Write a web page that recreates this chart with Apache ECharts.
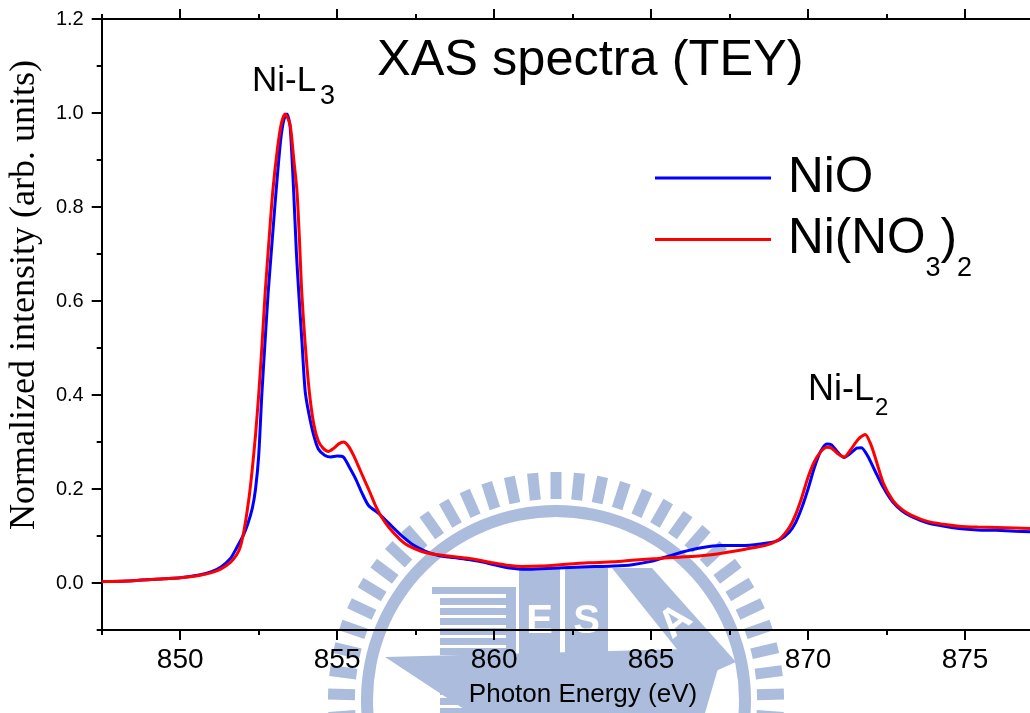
<!DOCTYPE html>
<html>
<head>
<meta charset="utf-8">
<title>XAS spectra (TEY)</title>
<script src="https://cdn.jsdelivr.net/npm/echarts@6/dist/echarts.min.js"></script>
<style>
  html, body { margin: 0; padding: 0; background: #fff; }
  #chart { width: 1030px; height: 713px; }
</style>
</head>
<body>
<div id="chart"></div>
<script>
// ---- Ni L-edge XAS, total electron yield ----
const X_MIN = 847.5, X_MAX = 877.07;
const Y_MIN = -0.1, Y_MAX = 1.2;

const xMajorTicks = [850, 855, 860, 865, 870, 875];
const xMinorTicks = [847.5, 852.5, 857.5, 862.5, 867.5, 872.5];
const yMajorTicks = [0, 0.2, 0.4, 0.6, 0.8, 1.0, 1.2];
const yMinorTicks = [-0.1, 0.1, 0.3, 0.5, 0.7, 0.9, 1.1];

// NiO
const nioEnergy = [
  847.5, 848.5, 849.5, 850.0, 850.6, 851.0, 851.3, 851.6, 851.8, 852.0,
  852.15, 852.3, 852.4, 852.5, 852.6, 852.7, 852.8, 852.95, 853.06, 853.2,
  853.3, 853.4, 853.5, 853.61, 853.7, 853.77, 853.88, 853.98, 854.1, 854.25,
  854.4, 854.6, 854.8, 855.0, 855.2, 855.4, 855.6, 855.8, 856.0, 856.3,
  856.6, 857.0, 857.4, 857.8, 858.2, 858.7, 859.2, 859.6, 860.0, 860.5,
  861.0, 861.7, 862.4, 863.2, 863.8, 864.4, 865.0, 865.5, 866.0, 866.6,
  867.2, 868.0, 868.7, 869.1, 869.4, 869.6, 869.8, 870.0, 870.2, 870.4,
  870.6, 870.75, 870.95, 871.15, 871.35, 871.55, 871.7, 871.9, 872.1, 872.4,
  872.7, 873.0, 873.3, 873.8, 874.3, 874.8, 875.4, 876.0, 876.6, 877.1
];
const nioIntensity = [
  0.003, 0.005, 0.009, 0.011, 0.017, 0.024, 0.034, 0.052, 0.075, 0.100,
  0.125, 0.160, 0.200, 0.270, 0.400, 0.510, 0.615, 0.745, 0.838, 0.942,
  0.985, 0.998, 0.972, 0.840, 0.705, 0.625, 0.512, 0.409, 0.360, 0.315,
  0.285, 0.272, 0.268, 0.270, 0.268, 0.245, 0.220, 0.190, 0.165, 0.149,
  0.130, 0.104, 0.082, 0.068, 0.059, 0.054, 0.050, 0.045, 0.039, 0.032,
  0.029, 0.031, 0.033, 0.035, 0.036, 0.039, 0.046, 0.056, 0.066, 0.075,
  0.080, 0.080, 0.085, 0.092, 0.108, 0.128, 0.160, 0.200, 0.245, 0.280,
  0.296, 0.294, 0.278, 0.267, 0.276, 0.287, 0.288, 0.270, 0.243, 0.203,
  0.172, 0.153, 0.141, 0.128, 0.121, 0.116, 0.113, 0.112, 0.110, 0.109
];

// Ni(NO3)2
const nitrateEnergy = [
  847.5, 848.5, 849.5, 850.0, 850.6, 851.0, 851.3, 851.6, 851.8, 851.92,
  852.05, 852.2, 852.3, 852.4, 852.5, 852.6, 852.71, 852.83, 852.95, 853.1,
  853.22, 853.34, 853.5, 853.62, 853.72, 853.8, 853.87, 853.98, 854.11, 854.25,
  854.4, 854.55, 854.72, 854.9, 855.05, 855.2, 855.35, 855.52, 855.7, 855.85,
  856.05, 856.2, 856.4, 856.65, 857.0, 857.25, 857.7, 858.1, 858.6, 859.1,
  859.5, 859.95, 860.5, 860.9, 861.5, 862.3, 863.0, 863.8, 864.5, 865.2,
  865.9, 866.6, 867.3, 868.0, 868.7, 869.1, 869.4, 869.6, 869.8, 870.0,
  870.2, 870.4, 870.6, 870.75, 870.95, 871.15, 871.35, 871.6, 871.82, 872.0,
  872.15, 872.4, 872.7, 873.0, 873.3, 873.8, 874.3, 874.8, 875.4, 876.0,
  876.6, 877.1
];
const nitrateIntensity = [
  0.003, 0.005, 0.009, 0.011, 0.016, 0.022, 0.030, 0.044, 0.060, 0.078,
  0.118, 0.185, 0.245, 0.315, 0.400, 0.500, 0.621, 0.730, 0.834, 0.925,
  0.977, 0.998, 0.975, 0.900, 0.834, 0.730, 0.621, 0.510, 0.409, 0.340,
  0.302, 0.287, 0.280, 0.287, 0.296, 0.300, 0.292, 0.272, 0.245, 0.222,
  0.192, 0.168, 0.142, 0.118, 0.093, 0.080, 0.067, 0.061, 0.057, 0.053,
  0.049, 0.043, 0.037, 0.035, 0.036, 0.040, 0.043, 0.045, 0.049, 0.052,
  0.055, 0.058, 0.064, 0.072, 0.081, 0.094, 0.118, 0.145, 0.182, 0.225,
  0.258, 0.279, 0.289, 0.287, 0.275, 0.268, 0.283, 0.306, 0.316, 0.295,
  0.265, 0.212, 0.176, 0.156, 0.144, 0.131, 0.125, 0.121, 0.119, 0.118,
  0.117, 0.116
];

const seriesNames = ['NiO', 'Ni(NO3)2'];
const seriesColors = ['#0000ff', '#ff0000'];

const SANS = '"Liberation Sans", Arial, sans-serif';
const SERIF = '"Liberation Serif", "Times New Roman", serif';

function zip(xs, ys) { return xs.map((x, i) => [x, ys[i]]); }

// ---- faint seal in the background ----
const WM = '#abbcdc';
const wmCx = 556, wmCy = 700;
const seal = [];
seal.push({ type: 'ring', shape: { cx: wmCx, cy: wmCy, r: 195, r0: 183 }, style: { fill: WM }, z: -5, silent: true });
for (let k = -16; k <= 16; k++) {
  const a = (90 + k * 5.9) * Math.PI / 180;
  const ux = Math.cos(a), uy = -Math.sin(a);
  const vx = Math.sin(a), vy = Math.cos(a);
  const r1 = 201, r2 = 228, hw = 5.5;
  seal.push({
    type: 'polygon', z: -5, silent: true,
    shape: { points: [
      [wmCx + r1 * ux - hw * vx, wmCy + r1 * uy - hw * vy],
      [wmCx + r2 * ux - hw * vx, wmCy + r2 * uy - hw * vy],
      [wmCx + r2 * ux + hw * vx, wmCy + r2 * uy + hw * vy],
      [wmCx + r1 * ux + hw * vx, wmCy + r1 * uy + hw * vy]
    ] },
    style: { fill: WM }
  });
}
seal.push({ type: 'rect', z: -5, silent: true, shape: { x: 432, y: 587, width: 84, height: 7 }, style: { fill: WM } });
for (let i = 0; i < 12; i++) {
  seal.push({ type: 'rect', z: -5, silent: true, shape: { x: 440, y: 598 + i * 10, width: 66, height: 7 }, style: { fill: WM } });
}
seal.push({ type: 'rect', z: -5, silent: true, shape: { x: 506, y: 587, width: 10, height: 126 }, style: { fill: WM } });
seal.push({ type: 'rect', z: -5, silent: true, shape: { x: 519, y: 568, width: 41, height: 145 }, style: { fill: WM } });
seal.push({ type: 'rect', z: -5, silent: true, shape: { x: 565, y: 568, width: 43, height: 145 }, style: { fill: WM } });
seal.push({ type: 'polygon', z: -5, silent: true, shape: { points: [[612, 568], [652, 568], [736, 662], [700, 678]] }, style: { fill: WM } });
seal.push({ type: 'polygon', z: -5, silent: true, shape: { points: [[385, 657], [724, 648], [705, 713], [470, 713]] }, style: { fill: WM } });
seal.push({ type: 'text', z: -4, silent: true, x: 539.5, y: 622, style: { text: 'E', fill: '#fff', font: 'bold 40px ' + SANS, align: 'center', verticalAlign: 'middle', textAlign: 'center', textVerticalAlign: 'middle' } });
seal.push({ type: 'text', z: -4, silent: true, x: 586.5, y: 622, style: { text: 'S', fill: '#fff', font: 'bold 40px ' + SANS, align: 'center', verticalAlign: 'middle', textAlign: 'center', textVerticalAlign: 'middle' } });
seal.push({ type: 'text', z: -4, silent: true, x: 676, y: 622, rotation: 0.7, style: { text: 'A', fill: '#fff', font: 'bold 40px ' + SANS, align: 'center', verticalAlign: 'middle', textAlign: 'center', textVerticalAlign: 'middle' } });

// ---- texts drawn on the canvas ----
function txt(x, y, text, font, align, extra) {
  return Object.assign({
    type: 'text', x: x, y: y, z: 10,
    style: { text: text, font: font, fill: '#000', align: align, verticalAlign: 'middle', textAlign: align, textVerticalAlign: 'middle' }
  }, extra || {});
}
const labels = [
  txt(377, 61, 'XAS spectra (TEY)', '50.5px ' + SANS, 'left'),
  txt(252, 81, 'Ni-L', '35px ' + SANS, 'left'),
  txt(320, 97, '3', '27px ' + SANS, 'left'),
  txt(808, 390, 'Ni-L', '36px ' + SANS, 'left'),
  txt(875, 408, '2', '24px ' + SANS, 'left'),
  txt(583, 695, 'Photon Energy (eV)', '26px ' + SANS, 'center'),
  txt(25, 295, 'Normalized intensity (arb. units)', '36px ' + SERIF, 'center', { rotation: Math.PI / 2 })
];

// ---- legend: sample line + name with chemical subscripts ----
const measureCtx = document.createElement('canvas').getContext('2d');
function textWidth(s, font) { measureCtx.font = font; return measureCtx.measureText(s).width; }
const LEG_MAIN = '49.5px ' + SANS, LEG_SUB = '27px ' + SANS;
const legendRows = [
  { y: 178, parts: [['NiO', false]] },
  { y: 239.5, parts: [['Ni(NO', false], ['3', true], [')', false], ['2', true]] }
];
const legendEls = [];
legendRows.forEach((row, i) => {
  legendEls.push({
    type: 'line', z: 10, silent: true,
    shape: { x1: 655, y1: row.y, x2: 771, y2: row.y },
    style: { stroke: seriesColors[i], lineWidth: 3 }
  });
  let x = 788;
  row.parts.forEach(([s, sub]) => {
    const font = sub ? LEG_SUB : LEG_MAIN;
    legendEls.push(txt(x, sub ? row.y + 29 : row.y, s, font, 'left'));
    x += textWidth(s, font);
  });
});

const axisLineStyle = { color: '#000', width: 2 };
function xAxisCfg(gridIndex, position, ticks, len, showLine, showLabels) {
  return {
    type: 'value', gridIndex: gridIndex, position: position, min: X_MIN, max: X_MAX,
    axisLine: { show: showLine, onZero: false, lineStyle: axisLineStyle },
    axisTick: { show: true, inside: false, customValues: ticks, length: len, lineStyle: axisLineStyle },
    axisLabel: showLabels
      ? { show: true, customValues: ticks, fontSize: 28, fontFamily: SANS, color: '#000', margin: 16 }
      : { show: false },
    splitLine: { show: false }
  };
}
function yAxisCfg(gridIndex, ticks, len, showLine, showLabels) {
  return {
    type: 'value', gridIndex: gridIndex, position: 'left', min: Y_MIN, max: Y_MAX,
    axisLine: { show: showLine, onZero: false, lineStyle: axisLineStyle },
    axisTick: { show: true, inside: false, customValues: ticks, length: len, lineStyle: axisLineStyle },
    axisLabel: showLabels
      ? { show: true, customValues: ticks, fontSize: 20, fontFamily: SANS, color: '#000', margin: 18,
          formatter: v => v.toFixed(1) }
      : { show: false },
    splitLine: { show: false }
  };
}

const gridBox = { left: 101.7, right: 0, top: 19, bottom: 83, containLabel: false };

const chart = echarts.init(document.getElementById('chart'), null, { renderer: 'canvas' });
chart.setOption({
  animation: false,
  backgroundColor: '#fff',
  grid: [Object.assign({}, gridBox), Object.assign({}, gridBox)],
  xAxis: [
    xAxisCfg(0, 'bottom', xMajorTicks, 10, true, true),
    xAxisCfg(0, 'top', xMajorTicks, 10, true, false),
    xAxisCfg(1, 'bottom', xMinorTicks, 5, false, false),
    xAxisCfg(1, 'top', xMinorTicks, 5, false, false)
  ],
  yAxis: [
    yAxisCfg(0, yMajorTicks, 10, true, true),
    yAxisCfg(1, yMinorTicks, 5, false, false)
  ],
  graphic: { elements: seal.concat(labels, legendEls) },
  series: [
    {
      name: seriesNames[0], type: 'line', xAxisIndex: 0, yAxisIndex: 0,
      data: zip(nioEnergy, nioIntensity),
      showSymbol: false, smooth: 0.25, z: 3,
      lineStyle: { color: seriesColors[0], width: 3 }, itemStyle: { color: seriesColors[0] }
    },
    {
      name: seriesNames[1], type: 'line', xAxisIndex: 0, yAxisIndex: 0,
      data: zip(nitrateEnergy, nitrateIntensity),
      showSymbol: false, smooth: 0.25, z: 4,
      lineStyle: { color: seriesColors[1], width: 3 }, itemStyle: { color: seriesColors[1] }
    }
  ]
});
</script>
</body>
</html>
